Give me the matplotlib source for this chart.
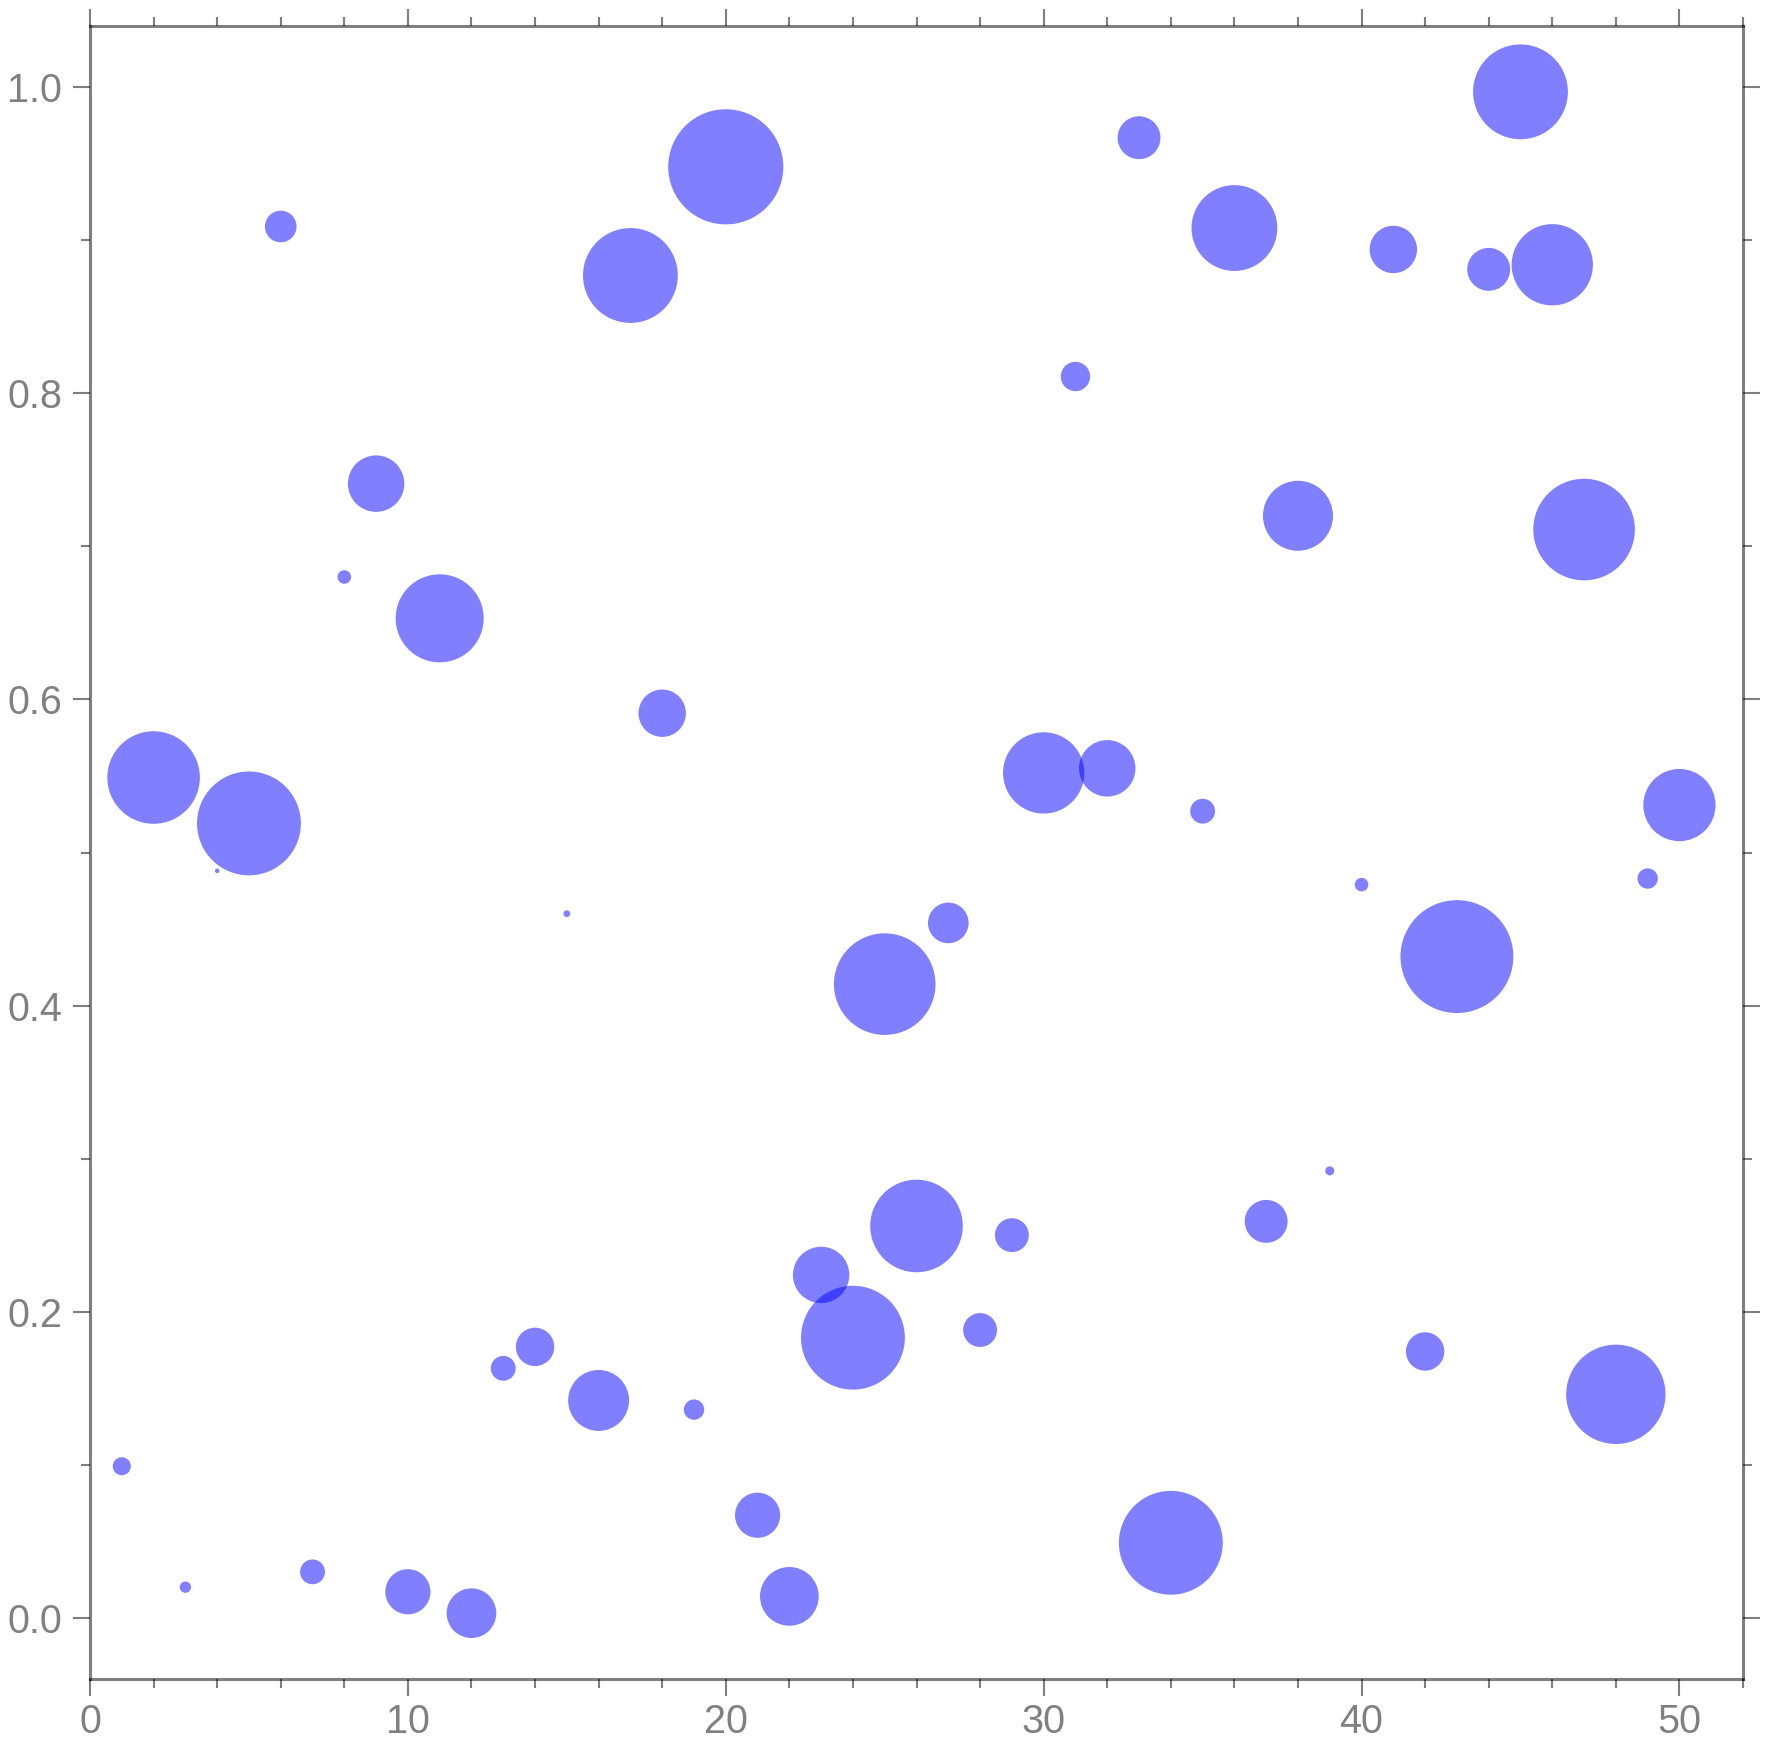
import matplotlib
matplotlib.use('Agg')
import matplotlib.pyplot as plt
from matplotlib.ticker import MultipleLocator
import numpy as np

plt.rcParams['font.family'] = ['Liberation Sans', 'DejaVu Sans']

# data
x = list(range(1, 51))
y = [0.099, 0.549, 0.020, 0.488, 0.519, 0.909, 0.030, 0.680, 0.741, 0.017,
     0.653, 0.003, 0.163, 0.177, 0.460, 0.142, 0.877, 0.591, 0.136, 0.948,
     0.067, 0.014, 0.224, 0.183, 0.414, 0.256, 0.454, 0.188, 0.250, 0.552,
     0.811, 0.555, 0.967, 0.049, 0.527, 0.908, 0.259, 0.720, 0.292, 0.479,
     0.894, 0.174, 0.432, 0.881, 0.997, 0.884, 0.711, 0.146, 0.483, 0.531]
# bubble radius (arbitrary units)
radius = [8, 41, 5, 2, 46, 14, 11, 6, 25, 20,
          39, 22, 11, 17, 3, 27, 42, 21, 9, 51,
          20, 26, 25, 46, 45, 41, 18, 15, 15, 36,
          13, 25, 19, 46, 11, 38, 19, 31, 4, 6,
          21, 17, 50, 19, 42, 36, 45, 44, 9, 32]

dpi = 100
fig = plt.figure(figsize=(17.7, 17.46), dpi=dpi)
ax = fig.add_axes([0.05085, 0.03837, 0.9339, 0.94674])

diam_pt = np.array(radius) * 1.6256
ax.scatter(x, y, s=diam_pt**2, color='blue', alpha=0.5, linewidths=0)

ax.set_xlim(0, 52)
ax.set_ylim(-0.04, 1.04)

ax.xaxis.set_major_locator(MultipleLocator(10))
ax.xaxis.set_minor_locator(MultipleLocator(2))
ax.yaxis.set_major_locator(MultipleLocator(0.2))
ax.yaxis.set_minor_locator(MultipleLocator(0.1))

edge = (0, 0, 0, 0.5)
for sp in ax.spines.values():
    sp.set_color(edge)
    sp.set_linewidth(2.2)

ax.tick_params(which='both', direction='out', top=True, right=True,
               color=edge, width=1.5, labelcolor='#808080', labelsize=28.5)
ax.tick_params(which='major', length=12, pad=5)
ax.tick_params(which='minor', length=6.5)
ax.tick_params(axis='y', which='major', pad=8)

fig.savefig('out.png', dpi=dpi)
